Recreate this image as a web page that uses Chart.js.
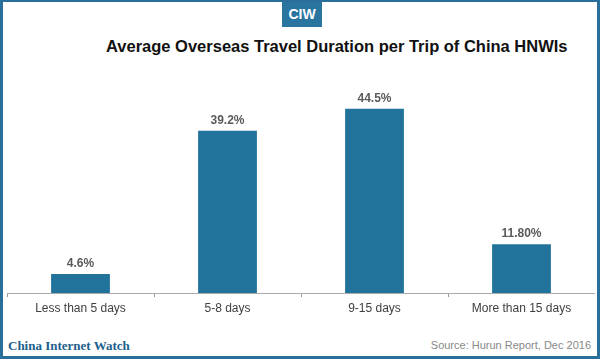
<!DOCTYPE html>
<html lang="en">
<head>
    <meta charset="UTF-8">
    <title>Average Overseas Travel Duration per Trip of China HNWIs</title>
    <script src="https://cdn.jsdelivr.net/npm/chart.js"></script>
    <style>
        html, body { margin: 0; padding: 0; background: #fff; }
        #frame {
            position: relative; width: 600px; height: 359px; box-sizing: border-box;
            border: 3px solid #2a6f9b; border-top-width: 2px; overflow: hidden;
        }
        #logo {
            position: absolute; left: 279px; top: 0; width: 40px; height: 25px;
            background: #2a74a0; color: #fff; font: bold 14px "Liberation Sans Narrow", "Liberation Sans", sans-serif;
            text-align: center; line-height: 25px;
        }
        #title {
            position: absolute; left: 103px; top: 35px; white-space: nowrap;
            font: bold 16.5px "Liberation Sans", Arial, sans-serif; color: #111;
        }
        #chartBox { position: absolute; left: 4px; top: 84px; width: 588px; height: 237px; }
        #brand {
            position: absolute; left: 5px; top: 336px; font: bold 13px "Liberation Serif", serif; color: #1d5f8c;
        }
        #source {
            position: absolute; right: 6px; top: 337px; font: 11px "Liberation Sans", Arial, sans-serif; color: #888;
        }
    </style>
</head>
<body>
    <div id="frame">
        <div id="logo">CIW</div>
        <div id="title">Average Overseas Travel Duration per Trip of China HNWIs</div>
        <div id="chartBox"><canvas id="myChart"></canvas></div>
        <div id="brand">China Internet Watch</div>
        <div id="source">Source: Hurun Report, Dec 2016</div>
    </div>
    <script>
        // data
        var categories = ['Less than 5 days', '5-8 days', '9-15 days', 'More than 15 days'];
        var shares = [4.6, 39.2, 44.5, 11.8];
        var shareLabels = ['4.6%', '39.2%', '44.5%', '11.80%'];

        // value labels above the bars
        var barLabels = {
            id: 'barLabels',
            afterDatasetsDraw: function (chart) {
                var ctx = chart.ctx;
                var meta = chart.getDatasetMeta(0);
                ctx.save();
                ctx.font = 'bold 12px "Liberation Sans", Arial, sans-serif';
                ctx.fillStyle = '#5a5a5a';
                ctx.textAlign = 'center';
                ctx.textBaseline = 'middle';
                meta.data.forEach(function (bar, i) {
                    ctx.fillText(shareLabels[i], bar.x, bar.y - 10);
                });
                ctx.restore();
            }
        };

        var chart01 = new Chart(document.getElementById('myChart'), {
            type: 'bar',
            data: {
                labels: categories,
                datasets: [{
                    data: shares,
                    backgroundColor: '#22739b',
                    barPercentage: 0.8,
                    categoryPercentage: 0.5
                }]
            },
            options: {
                responsive: true,
                maintainAspectRatio: false,
                animation: false,
                layout: { padding: 0 },
                plugins: { legend: { display: false }, tooltip: { enabled: false } },
                scales: {
                    x: {
                        grid: { drawOnChartArea: false, color: '#999', tickLength: 4 },
                        border: { color: '#aaa', width: 1 },
                        ticks: {
                            color: '#404040', padding: 4,
                            font: { family: '"Liberation Sans", Arial, sans-serif', size: 12 }
                        },
                        afterFit: function (scale) { scale.height = 30; }
                    },
                    y: { display: false, min: 0, max: 50 }
                }
            },
            plugins: [barLabels]
        });
    </script>
</body>
</html>
